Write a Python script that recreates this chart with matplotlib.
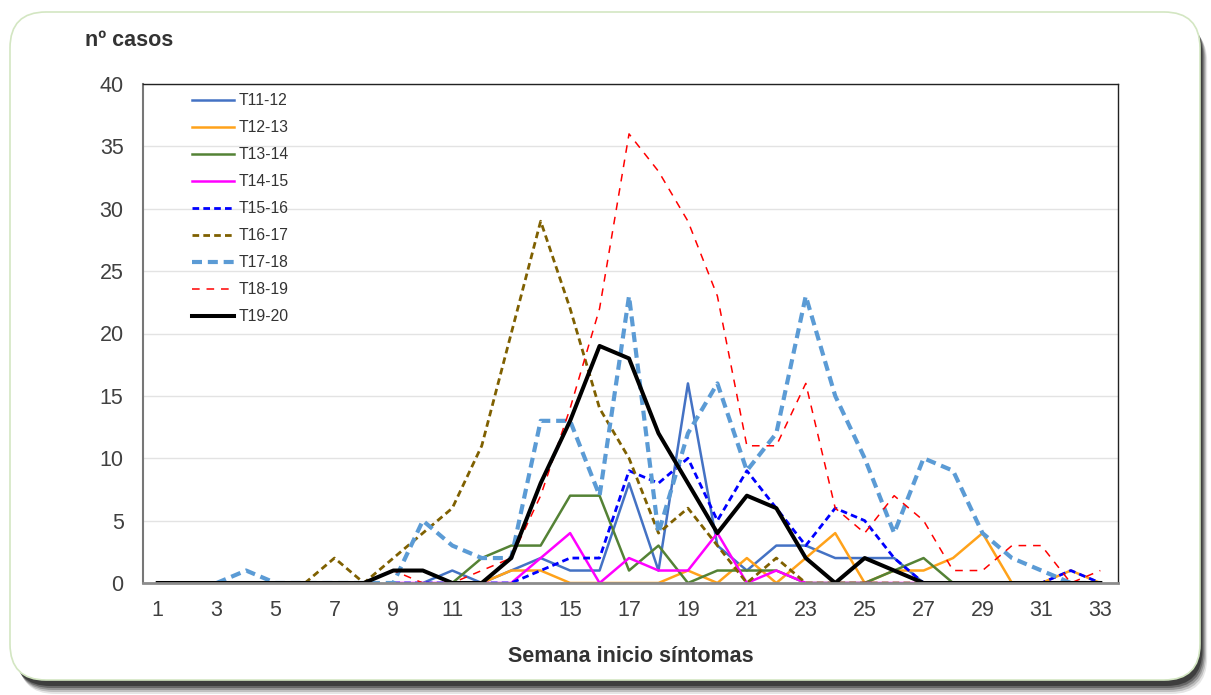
import numpy as np
import matplotlib.pyplot as plt
from matplotlib.patches import FancyBboxPatch

plt.rcParams["font.family"] = ["Liberation Sans", "DejaVu Sans"]

# weekly cases per season (None = no point drawn)
N = None
weeks = list(range(1, 34))
week_ticks = list(range(1, 34, 2))
seasons = ["T11-12", "T12-13", "T13-14", "T14-15", "T15-16",
           "T16-17", "T17-18", "T18-19", "T19-20"]

t11_12 = [N, N, N, N, N, N, N, N, N, 0, 1, 0, 1, 2, 1, 1, 8,
          1, 16, 3, 1, 3, 3, 2, 2, 2, 0, N, N, N, N, N, N]
t12_13 = [N, N, N, N, N, N, N, N, N, N, N, 0, 1, 1, 0, 0, 0,
          0, 1, 0, 2, 0, 2, 4, 0, 1, 1, 2, 4, 0, 0, 1, 0]
t13_14 = [N, N, N, N, N, N, N, N, N, N, 0, 2, 3, 3, 7, 7, 1,
          3, 0, 1, 1, 1, 0, 0, 0, 1, 2, 0, N, N, N, N, N]
t14_15 = [N, N, N, N, N, N, N, N, 0, 0, 0, 0, 0, 2, 4, 0, 2,
          1, 1, 4, 0, 1, 0, 0, 0, 0, 0, N, N, N, N, N, N]
t15_16 = [N, N, N, N, N, N, N, N, 0, 0, 0, 0, 0, 1, 2, 2, 9,
          8, 10, 5, 9, 6, 3, 6, 5, 2, 0, 0, 0, 0, 0, 1, 0]
t16_17 = [N, N, N, N, N, 0, 2, 0, 2, 4, 6, 11, 20, 29, 22, 14, 10,
          4, 6, 3, 0, 2, 0, 0, 0, 0, 0, N, N, N, N, N, N]
t17_18 = [N, N, 0, 1, 0, 0, 0, 0, 0, 5, 3, 2, 2, 13, 13, 7, 23,
          4, 12, 16, 9, 12, 23, 15, 10, 4, 10, 9, 4, 2, 1, 0, 0]
t18_19 = [N, N, N, N, N, N, N, 0, 1, 0, 0, 1, 2, 7, 14, 22, 36,
          33, 29, 23, 11, 11, 16, 6, 4, 7, 5, 1, 1, 3, 3, 0, 1]
t19_20 = [0, 0, 0, 0, 0, 0, 0, 0, 1, 1, 0, 0, 2, 8, 13, 19, 18,
          12, 8, 4, 7, 6, 2, 0, 2, 1, 0, 0, 0, 0, 0, 0, 0]

series = [t11_12, t12_13, t13_14, t14_15, t15_16,
          t16_17, t17_18, t18_19, t19_20]

# (colour, linewidth, dash pattern or None for solid)
styles = [
    ("#4472C4", 1.8, None),
    ("#FFA21A", 1.8, None),
    ("#548235", 1.8, None),
    ("#FF00FF", 1.8, None),
    ("#0000FF", 2.0, (2.4, 1.5)),
    ("#7F6000", 2.0, (2.4, 1.5)),
    ("#5B9BD5", 3.0, (2.4, 1.4)),
    ("#FF0000", 1.1, (5.0, 4.5)),
    ("#000000", 2.9, None),
]

W, H = 1211, 695
fig = plt.figure(figsize=(W / 100, H / 100), dpi=100)
fig.patch.set_facecolor("white")

# background panel with rounded corners and a drop shadow
bg = fig.add_axes([0, 0, 1, 1])
bg.set_xlim(0, W)
bg.set_ylim(H, 0)
bg.axis("off")
for k, a in enumerate([0.10, 0.16, 0.22, 0.30, 0.40]):
    off = 12 - 2 * k
    bg.add_patch(FancyBboxPatch((12 + off * 0.6, 14 + off), 1188, 668,
                                boxstyle="round,pad=0,rounding_size=36",
                                fc="black", ec="none", alpha=a))
bg.add_patch(FancyBboxPatch((10, 12), 1190, 668,
                            boxstyle="round,pad=0,rounding_size=36",
                            fc="white", ec="#D3E6C2", lw=1.2))

ax = fig.add_axes([143 / W, 1 - 583 / H, (1118 - 143) / W, (583 - 84) / H])
ax.set_facecolor("white")

for name, vals, (col, lw, dash) in zip(seasons, series, styles):
    y = np.array([np.nan if v is None else v for v in vals], dtype=float)
    line, = ax.plot(weeks, y, color=col, lw=lw, label=name,
                    solid_joinstyle="round", dash_joinstyle="round",
                    dash_capstyle="butt")
    if dash is not None:
        line.set_dashes(dash)

ax.set_xlim(0.5, 33.6)
ax.set_ylim(0, 40)
ax.set_yticks(range(0, 41, 5))
ax.set_xticks(week_ticks)
ax.tick_params(length=0, labelsize=15.5, labelcolor="#404040")
ax.tick_params(axis="y", pad=14)
ax.tick_params(axis="x", pad=12)
ax.grid(axis="y", color="#E3E3E3", lw=1)
ax.set_axisbelow(True)
for side in ["top", "right"]:
    ax.spines[side].set_color("#222222")
    ax.spines[side].set_linewidth(1)
ax.spines["left"].set_color("#777777")
ax.spines["left"].set_linewidth(1.5)
ax.spines["bottom"].set_color("#8C8C8C")
ax.spines["bottom"].set_linewidth(2)

ax.set_xlabel("Semana inicio síntomas", fontsize=15.5, fontweight="bold",
              color="#333333", labelpad=18)
fig.text(85 / W, 1 - 40 / H, "nº casos", fontsize=15.5, fontweight="bold",
         color="#333333", ha="left", va="center")

ax.legend(loc="upper left", bbox_to_anchor=(49 / 975, 1 - 9 / 499),
          frameon=False, fontsize=11.3, handlelength=2.65, handletextpad=0.3,
          labelspacing=0.765, borderaxespad=0, borderpad=0,
          labelcolor="#333333")

fig.savefig("out.png", dpi=100, facecolor="white")
